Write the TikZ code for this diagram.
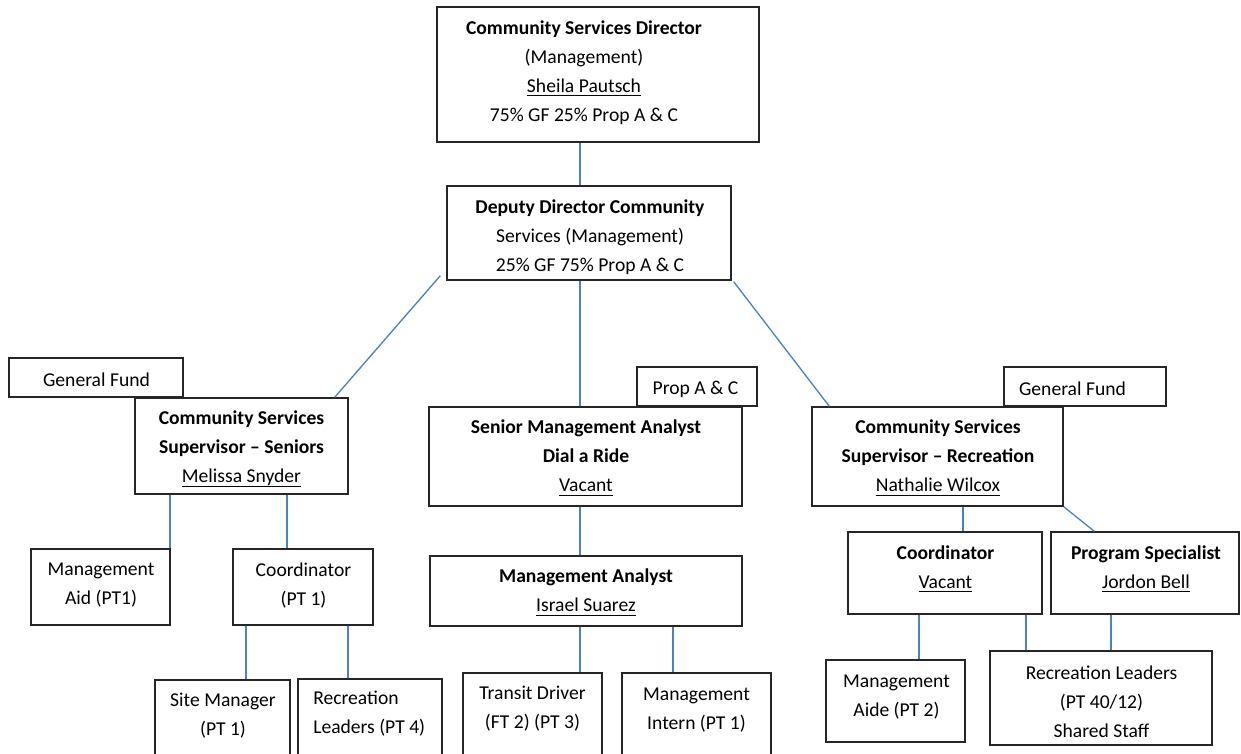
\documentclass[tikz,border=0pt]{standalone}
\usepackage{fontspec}
\setmainfont{Carlito}
\usetikzlibrary{calc}
\definecolor{linkblue}{RGB}{79,129,189}
\definecolor{edge}{RGB}{38,38,38}
% underlined name with a fixed depth, so every underline sits at the same height
\newcommand{\nm}[1]{\underline{\raisebox{0pt}[\height][1.2pt]{#1}}}
\begin{document}
\begin{tikzpicture}[x=0.75pt,y=-0.75pt,
  box/.style 2 args={draw=edge, line width=1pt, minimum width=#1*0.75pt, minimum height=#2*0.75pt, inner sep=0pt},
  txt/.style={align=center, inner sep=0pt, font=\fontsize{14.7}{21.75}\selectfont},
  link/.style={draw=linkblue, line width=1pt}]
\useasboundingbox (0,0) rectangle (1241,753);
\clip (0,0) rectangle (1241,753);

% ---- boxes ----
\node[box={322}{135}] (dir)   at (598,74.5)   {};
\node[box={284}{94}]  (dep)   at (589,233)    {};
\node[box={174}{39}]  (gfL)   at (96,377.5)   {};
\node[box={213}{96}]  (sen)   at (241.5,446)  {};
\node[box={120}{39}]  (prop)  at (697,386.5)  {};
\node[box={313}{99}]  (sma)   at (585.5,456.5){};
\node[box={162}{39}]  (gfR)   at (1085,386.5) {};
\node[box={251}{99}]  (rec)   at (937.5,456.5){};
\node[box={139}{76}]  (maid)  at (100.5,587)  {};
\node[box={140}{76}]  (crd)   at (303,587)    {};
\node[box={312}{70}]  (ma)    at (586,591)    {};
\node[box={135}{90}]  (site)  at (222.5,725)  {};
\node[box={144}{91}]  (rlA)   at (370,724.5)  {};
\node[box={139}{97}]  (tran)  at (532.5,721.5){};
\node[box={149}{97}]  (intn)  at (696.5,721.5){};
\node[box={194}{82}]  (crdV)  at (945,573)    {};
\node[box={188}{82}]  (ps)    at (1145,573)   {};
\node[box={139}{82}]  (maide) at (895.5,701)  {};
\node[box={222}{94}]  (rlB)   at (1101,698)   {};

% ---- texts ----
\node[txt] (dirT) at (584,72.5) {\textbf{Community Services Director}\\(Management)\\\nm{Sheila Pautsch}\\75\% GF 25\% Prop A \& C};
\node[txt] (depT) at (590,237) {\textbf{Deputy Director Community}\\Services (Management)\\25\% GF 75\% Prop A \& C};
\node[txt] (gfLT) at (96.5,380) {General Fund};
\node[txt] (senT) at (241.5,449) {\textbf{Community Services}\\\textbf{Supervisor – Seniors}\\\nm{Melissa Snyder}};
\node[txt] (propT) at (695.5,389) {Prop A \& C};
\node[txt] (smaT) at (586,458) {\textbf{Senior Management Analyst}\\\textbf{Dial a Ride}\\\nm{Vacant}};
\node[txt] (gfRT) at (1072.5,389) {General Fund};
\node[txt] (recT) at (938,458) {\textbf{Community Services}\\\textbf{Supervisor – Recreation}\\\nm{Nathalie Wilcox}};
\node[txt] (maidT) at (101,585.5) {Management\\Aid (PT1)};
\node[txt] (crdT) at (303.5,585.5) {Coordinator\\(PT 1)};
\node[txt] (maT) at (586,592.5) {\textbf{Management Analyst}\\\nm{Israel Suarez}};
\node[txt] (siteT) at (223,715.5) {Site Manager\\(PT 1)};
\node[txt, align=left, anchor=west] (rlAT) at (313,713.5) {Recreation\\Leaders (PT 4)};
\node[txt] (tranT) at (532.5,709) {Transit Driver\\(FT 2) (PT 3)};
\node[txt] (intnT) at (696.5,710) {Management\\Intern (PT 1)};
\node[txt] (crdVT) at (945.5,569) {\textbf{Coordinator}\\\nm{Vacant}};
\node[txt] (psT) at (1146,569) {\textbf{Program Specialist}\\\nm{Jordon Bell}};
\node[txt] (maideT) at (896.5,697) {Management\\Aide (PT 2)};
\node[txt] (rlBT) at (1101.5,702) {Recreation Leaders\\(PT 40/12)\\Shared Staff};

% ---- connectors ----
\draw[link] (580,0 |- dir.south) -- (580,0 |- dep.north);
\draw[link] ($(dep.south west)+(-6,-5)$) -- ($(sen.north east)+(-14,0)$);
\draw[link] (580,0 |- dep.south) -- (580,0 |- sma.north);
\draw[link] ($(dep.south east)+(2,1)$) -- ($(rec.north west)+(18,0)$);
\draw[link] (170,0 |- sen.south) -- (170,0 |- maid.north);
\draw[link] (287,0 |- sen.south) -- (287,0 |- crd.north);
\draw[link] (580,0 |- sma.south) -- (580,0 |- ma.north);
\draw[link] (580,0 |- ma.south) -- (580,0 |- tran.north);
\draw[link] (673,0 |- ma.south) -- (673,0 |- intn.north);
\draw[link] (246,0 |- crd.south) -- (246,0 |- site.north);
\draw[link] (348,0 |- crd.south) -- (348,0 |- rlA.north);
\draw[link] (963,0 |- rec.south) -- (963,0 |- crdV.north);
\draw[link] (rec.south east) -- ($(ps.north west)+(44,0)$);
\draw[link] (919,0 |- crdV.south) -- (919,0 |- maide.north);
\draw[link] (1026,0 |- crdV.south) -- (1026,0 |- rlB.north);
\draw[link] (1111,0 |- ps.south) -- (1111,0 |- rlB.north);
\end{tikzpicture}
\end{document}
